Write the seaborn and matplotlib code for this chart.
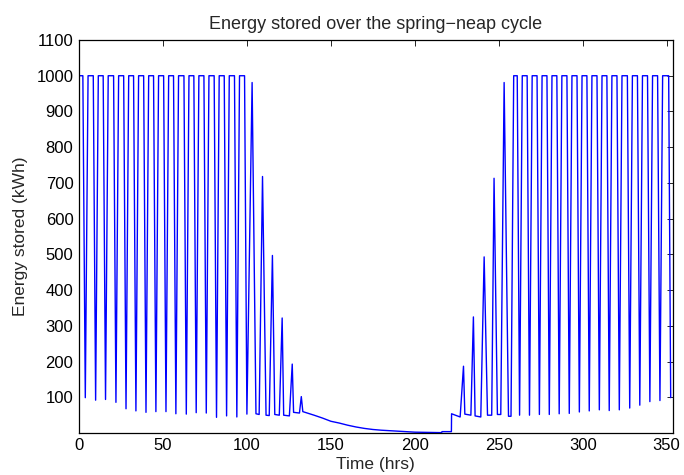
import matplotlib
matplotlib.use("Agg")
import matplotlib.pyplot as plt
import pandas as pd
import seaborn as sns

# ---- data (time in hrs, energy in kWh) ----
spring_left_t = [0.0, 2.3, 3.75, 5.4, 8.5, 9.9, 11.5, 14.4, 15.8, 17.4, 20.6, 22.0,
                 23.6, 26.6, 28.0, 29.6, 32.5, 33.9, 35.5, 38.5, 39.9, 41.5, 44.4, 45.8,
                 47.4, 50.4, 51.8, 53.4, 56.3, 57.7, 59.3, 62.5, 63.9, 65.5, 68.4, 69.8,
                 71.4, 74.4, 75.8, 77.4, 80.5, 81.9, 83.5, 86.5, 87.9, 89.5, 92.6, 94.0,
                 95.6, 98.6, 100.0]
spring_left_e = [1000, 1000, 99, 1000, 1000, 92, 1000, 1000, 94, 1000, 1000, 86,
                 1000, 1000, 68, 1000, 1000, 62, 1000, 1000, 58, 1000, 1000, 60,
                 1000, 1000, 60, 1000, 1000, 54, 1000, 1000, 53, 1000, 1000, 57,
                 1000, 1000, 56, 1000, 1000, 44, 1000, 1000, 48, 1000, 1000, 45,
                 1000, 1000, 53]

decay_t = [103.1, 105.4, 107.3, 109.3, 111.4, 113.3, 115.2, 116.6, 119.3, 121.0,
           121.9, 125.3, 127.0, 127.8, 131.3, 132.4, 133.3]
decay_e = [981, 54, 52, 718, 50, 49, 497, 52, 50, 322,
           50, 48, 193, 58, 56, 102, 60]

neap_t = [136, 140, 145, 150, 155, 160, 165, 170, 175, 180, 187, 195, 200, 207, 216,
          216.2, 221.8, 221.9, 227]
neap_e = [56, 50, 42, 33, 28, 22, 17, 13, 10, 8, 6, 3.5, 2.5, 1.8, 1.2,
          4, 4, 54, 45]

growth_t = [229.0, 229.8, 233.4, 234.9, 235.9, 239.3, 241.3, 243.3, 245.8,
            247.2, 249.2, 251.2, 253.2, 255.8, 257.3]
growth_e = [187, 53, 50, 325, 48, 45, 493, 50, 50,
            713, 52, 52, 981, 47, 47]

spring_right_t = [258.9, 261.0, 262.4, 264.0, 266.9, 268.3, 269.9, 272.8, 274.2,
                  275.8, 278.7, 280.1, 281.7, 284.6, 286.0, 287.6, 290.6, 292.0,
                  293.6, 296.6, 298.0, 299.6, 302.5, 303.9, 305.5, 308.5, 309.9,
                  311.5, 314.4, 315.8, 317.4, 320.4, 321.8, 323.4, 326.6, 328.0,
                  329.6, 332.6, 334.0, 335.6, 338.6, 340.0, 341.6, 344.6, 346.0,
                  347.6, 351.2, 352.4]
spring_right_e = [1000, 1000, 50, 1000, 1000, 50, 1000, 1000, 52,
                  1000, 1000, 52, 1000, 1000, 54, 1000, 1000, 55,
                  1000, 1000, 59, 1000, 1000, 62, 1000, 1000, 65,
                  1000, 1000, 63, 1000, 1000, 65, 1000, 1000, 70,
                  1000, 1000, 78, 1000, 1000, 88, 1000, 1000, 91,
                  1000, 1000, 99]

x_ticks = [0, 50, 100, 150, 200, 250, 300, 350]
y_ticks = [100, 200, 300, 400, 500, 600, 700, 800, 900, 1000, 1100]

df = pd.DataFrame({
    "t": spring_left_t + decay_t + neap_t + growth_t + spring_right_t,
    "e": spring_left_e + decay_e + neap_e + growth_e + spring_right_e,
})

sns.set_style("white")
plt.rcParams["font.family"] = ["Liberation Sans", "DejaVu Sans"]

fig = plt.figure(figsize=(6.84, 4.75), dpi=100)
ax = fig.add_axes([79 / 684, 1 - 432.7 / 475, (672.7 - 79) / 684, (432.7 - 40) / 475])

sns.lineplot(data=df, x="t", y="e", ax=ax, estimator=None, sort=False,
             color=(0, 0, 1), linewidth=1.0)

ax.set_xlim(0, 353.6)
ax.set_ylim(1, 1100)
ax.set_xticks(x_ticks)
ax.set_yticks(y_ticks)
ax.tick_params(direction="in", length=4.5, width=0.6, top=True, right=True,
               labelsize=12, colors="black", pad=4)
for s in ax.spines.values():
    s.set_visible(True)
    s.set_color("black")
    s.set_linewidth(0.9)

ax.set_title("Energy stored over the spring\u2212neap cycle", fontsize=13, pad=8)
ax.set_xlabel("Time (hrs)", fontsize=12.5, labelpad=3)
ax.set_ylabel("Energy stored (kWh)", fontsize=12.5, labelpad=6)

fig.savefig("out.png", dpi=100)
